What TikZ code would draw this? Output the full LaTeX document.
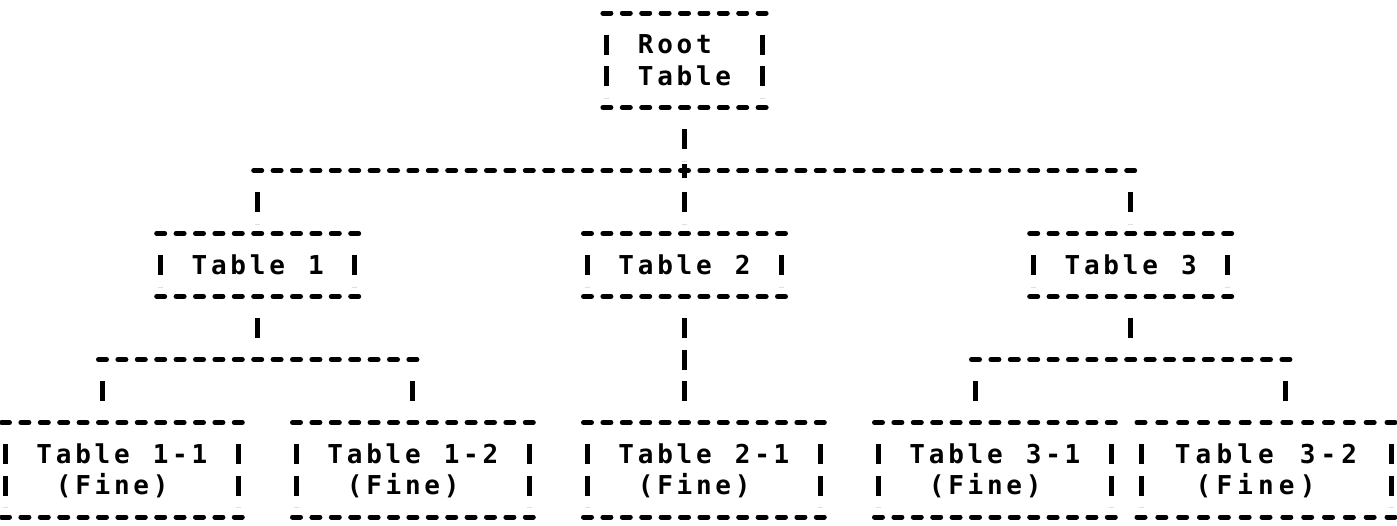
\documentclass[tikz,border=0pt]{standalone}
\usepackage{fontspec}
\newfontfamily\ascfont{DejaVu Sans Mono}
\newcommand\cw{19.4pt}
\makeatletter
\newcommand\spcd[1]{\@tfor\ch@r:=#1\do{\makebox[\cw][c]{\ch@r}}}
\makeatother
\newcommand\twoln[2]{\vtop{\baselineskip=31.5pt\lineskiplimit=-100pt\hbox{\spcd{#1}}\hbox{\spcd{#2}}}}
\tikzset{
  hdash/.style={line width=5pt, line cap=round, dash pattern=on 8pt off 11.4pt, shorten <=-4pt, shorten >=-4pt},
  vpipe/.style={line width=5pt, dash pattern=on 20pt off 11.5pt, dash phase=20pt, shorten <=10pt, shorten >=10pt},
  plusbar/.style={line width=5pt},
  txt/.style={anchor=base west, inner sep=0pt, outer sep=0pt, font=\ascfont\bfseries\fontsize{26}{31.5}\selectfont}
}
% box: name, x left pipe, x right pipe, intervals, top row, bottom row, content
\newcommand\xbox[7]{%
  \pgfmathsetmacro\xl{#2}\pgfmathsetmacro\xr{#3}%
  \pgfmathsetmacro\bsp{(\xr-\xl)/#4}%
  \pgfmathsetmacro\boff{\bsp-8}%
  \pgfmathsetmacro\yt{13+31.5*#5}\pgfmathsetmacro\yb{13+31.5*#6}%
  \pgfmathsetmacro\tx{\xl+1.5*\bsp}%
  \pgfmathsetmacro\ty{\yt+31.5+9}%
  \draw[hdash,dash pattern=on 8pt off \boff pt] (\xl,\yt) -- (\xr,\yt);
  \draw[hdash,dash pattern=on 8pt off \boff pt] (\xl,\yb) -- (\xr,\yb);
  \draw[vpipe] (\xl,\yt) -- (\xl,\yb);
  \draw[vpipe] (\xr,\yt) -- (\xr,\yb);
  \node[txt] (#1) at (\tx,\ty) {\renewcommand\cw{\bsp pt}#7};
}
\begin{document}
\begin{tikzpicture}[x=1pt,y=-1pt,
  declare function={cx(\c)=5.5+19.4*\c; ry(\l)=13+31.5*\l;}]
\useasboundingbox (0,0) rectangle (1397,525);
\fill[white] (0,0) rectangle (1397,525);

% boxes
\xbox{root}{cx(31)}{cx(39)}{8}{0}{3}{\twoln{Root}{Table}}
\xbox{t1}{cx(8)}{cx(18)}{10}{7}{9}{\spcd{Table~1}}
\xbox{t2}{cx(30)}{cx(40)}{10}{7}{9}{\spcd{Table~2}}
\xbox{t3}{cx(53)}{cx(63)}{10}{7}{9}{\spcd{Table~3}}
\xbox{t11}{cx(0)}{cx(12)}{12}{13}{16}{\twoln{Table~1-1}{~(Fine)}}
\xbox{t12}{cx(15)}{cx(27)}{12}{13}{16}{\twoln{Table~1-2}{~(Fine)}}
\xbox{t21}{cx(30)}{cx(42)}{12}{13}{16}{\twoln{Table~2-1}{~(Fine)}}
\xbox{t31}{cx(45)}{cx(57)}{12}{13}{16}{\twoln{Table~3-1}{~(Fine)}}
\xbox{t32}{1141}{1391}{12}{13}{16}{\twoln{Table~3-2}{~(Fine)}}

% connector points
\coordinate (rootB) at ({cx(35)},{ry(3)});
\coordinate (J0)  at ({cx(35)},{ry(5)});
\coordinate (J0L) at ({cx(13)},{ry(5)});
\coordinate (J0R) at ({cx(58)},{ry(5)});
\coordinate (t1T) at ({cx(13)},{ry(7)});
\coordinate (t2T) at ({cx(35)},{ry(7)});
\coordinate (t3T) at ({cx(58)},{ry(7)});
\coordinate (t1B) at ({cx(13)},{ry(9)});
\coordinate (t2B) at ({cx(35)},{ry(9)});
\coordinate (t3B) at ({cx(58)},{ry(9)});
\coordinate (J1)  at ({cx(13)},{ry(11)});
\coordinate (J1L) at ({cx(5)},{ry(11)});
\coordinate (J1R) at ({cx(21)},{ry(11)});
\coordinate (J3)  at ({cx(58)},{ry(11)});
\coordinate (J3L) at ({cx(50)},{ry(11)});
\coordinate (J3R) at ({cx(66)},{ry(11)});
\coordinate (t11T) at ({cx(5)},{ry(13)});
\coordinate (t12T) at ({cx(21)},{ry(13)});
\coordinate (t21T) at ({cx(35)},{ry(13)});
\coordinate (t31T) at ({cx(50)},{ry(13)});
\coordinate (t32T) at ({cx(66)},{ry(13)});

% level 0 -> 1
\draw[vpipe] (rootB) -- (J0);
\draw[hdash] (J0L) -- (J0R);
\draw[plusbar] ([yshift=-7pt]J0) -- ([yshift=7pt]J0);
\draw[vpipe] (J0L) -- (t1T);
\draw[vpipe] (J0) -- (t2T);
\draw[vpipe] (J0R) -- (t3T);

% level 1 -> 2
\draw[vpipe] (t1B) -- (J1);
\draw[hdash] (J1L) -- (J1R);
\draw[vpipe] (J1L) -- (t11T);
\draw[vpipe] (J1R) -- (t12T);

\draw[vpipe] (t2B) -- (t21T);

\draw[vpipe] (t3B) -- (J3);
\draw[hdash] (J3L) -- (J3R);
\draw[vpipe] (J3L) -- (t31T);
\draw[vpipe] (J3R) -- (t32T);
\end{tikzpicture}
\end{document}
